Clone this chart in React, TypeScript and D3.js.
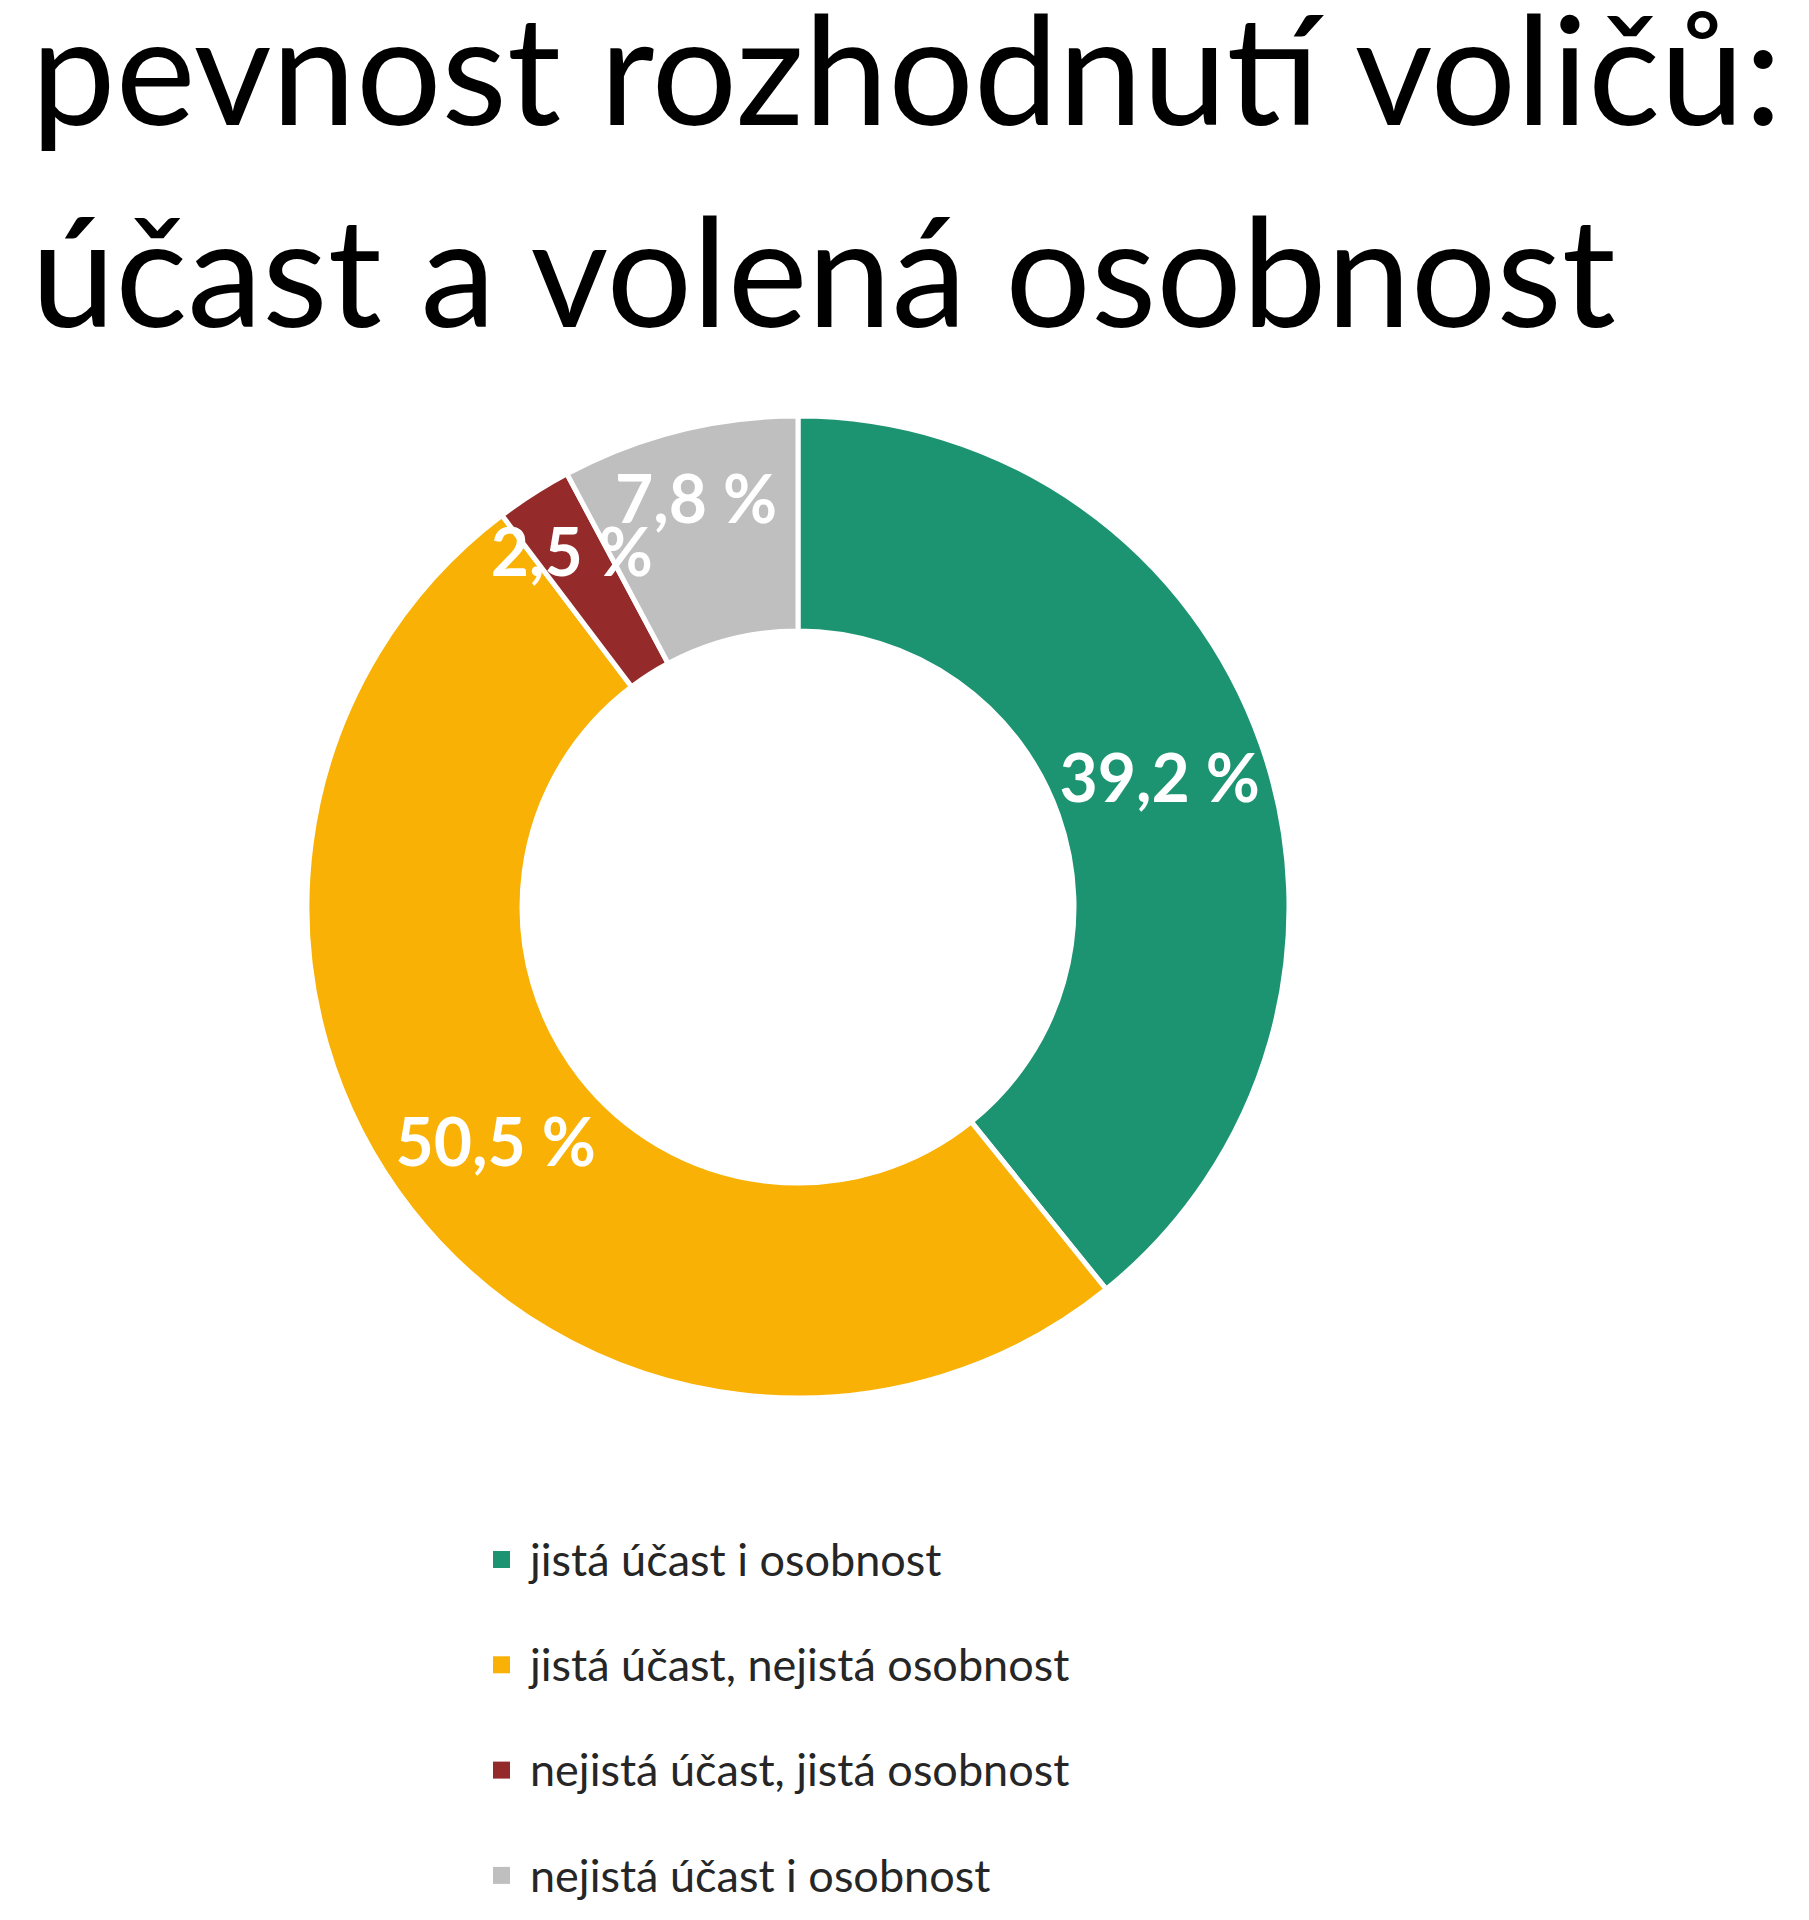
import React, { useEffect, useRef } from 'react';
import * as d3 from 'd3';

const titleLines = ['pevnost rozhodnutí voličů:', 'účast a volená osobnost'];
const categories = [
  'jistá účast i osobnost',
  'jistá účast, nejistá osobnost',
  'nejistá účast, jistá osobnost',
  'nejistá účast i osobnost',
];
const values = [39.2, 50.5, 2.5, 7.8];
const colors = ['#1D9471', '#F8B104', '#952A2B', '#BFBFBF'];

const W = 1809;
const H = 1920;

const App: React.FC = () => {
  const svgRef = useRef<SVGSVGElement>(null);

  useEffect(() => {
    if (!svgRef.current) return;
    const svg = d3.select(svgRef.current);
    svg.selectAll('*').remove();

    const font = 'Lato, "Noto Sans", sans-serif';

    // Title
    svg.selectAll('.title')
      .data(titleLines)
      .enter()
      .append('text')
      .attr('class', 'title')
      .attr('x', 31)
      .attr('y', (_, i) => 125 + i * 202)
      .attr('fill', '#000')
      .style('font-family', font)
      .style('font-size', '151px')
      .text(d => d);

    // Donut
    const cx = 798;
    const cy = 907;
    const outerR = 491;
    const innerR = 276;

    const data = categories.map((c, i) => ({ name: c, value: values[i], color: colors[i] }));
    const pie = d3.pie<typeof data[number]>().sort(null).value(d => d.value);
    const arc = d3.arc<d3.PieArcDatum<typeof data[number]>>().innerRadius(innerR).outerRadius(outerR);
    // small slices get their label pushed out a bit, like Excel's best fit
    const smallArc = d3.arc<d3.PieArcDatum<typeof data[number]>>().innerRadius(350).outerRadius(490);
    const arcs = pie(data);

    const g = svg.append('g').attr('transform', `translate(${cx},${cy})`);

    g.selectAll('.slice')
      .data(arcs)
      .enter()
      .append('path')
      .attr('class', 'slice')
      .attr('d', arc)
      .attr('fill', d => d.data.color)
      .attr('stroke', '#fff')
      .attr('stroke-width', 5);

    const pos = (d: d3.PieArcDatum<typeof data[number]>) =>
      d.data.value < 10 ? smallArc.centroid(d) : arc.centroid(d);

    g.selectAll('.lbl')
      .data(arcs)
      .enter()
      .append('text')
      .attr('class', 'lbl')
      .attr('x', d => pos(d)[0])
      .attr('y', d => pos(d)[1])
      .attr('dy', '0.35em')
      .attr('text-anchor', 'middle')
      .attr('fill', '#fff')
      .style('font-family', font)
      .style('font-weight', '700')
      .style('font-size', '66px')
      .text(d => `${d.data.value.toFixed(1).replace('.', ',')} %`);

    // Legend
    const legend = svg.append('g').attr('transform', 'translate(493,1560)');
    const item = legend.selectAll('.item')
      .data(data)
      .enter()
      .append('g')
      .attr('class', 'item')
      .attr('transform', (_, i) => `translate(0,${i * 105.3})`);

    item.append('rect')
      .attr('x', 0)
      .attr('y', -9)
      .attr('width', 17)
      .attr('height', 17)
      .attr('fill', d => d.color);

    item.append('text')
      .attr('x', 37)
      .attr('y', 0)
      .attr('dy', '0.35em')
      .attr('fill', '#262626')
      .style('font-family', font)
      .style('font-size', '45px')
      .text(d => d.name);
  }, []);

  return (
    <div style={{ position: 'absolute', left: 0, top: 0, background: '#fff' }}>
      <svg ref={svgRef} width={W} height={H} style={{ display: 'block' }} />
    </div>
  );
};

export default App;
